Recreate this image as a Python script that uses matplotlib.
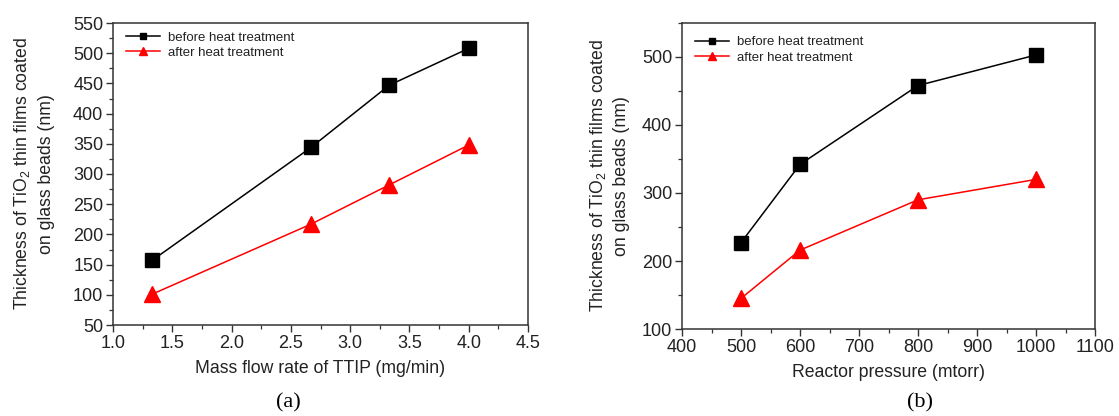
import matplotlib
matplotlib.use("Agg")
import matplotlib.pyplot as plt
from matplotlib.ticker import MultipleLocator

plt.rcParams['font.family'] = ['Liberation Sans', 'DejaVu Sans']
plt.rcParams['mathtext.default'] = 'regular'

# Panel (a)
flow_rate = [1.33, 2.67, 3.33, 4.0]
before_a = [157, 344, 447, 508]
after_a = [101, 217, 282, 348]

# Panel (b)
pressure = [500, 600, 800, 1000]
before_b = [227, 342, 458, 503]
after_b = [145, 216, 290, 320]

labels = ["before heat treatment", "after heat treatment"]
ylabel = "Thickness of TiO$_2$ thin films coated\non glass beads (nm)"

W, H = 1119, 416
fig = plt.figure(figsize=(W / 100, H / 100), dpi=100)
ax1 = fig.add_axes([113 / W, 1 - 325 / H, 415 / W, 302 / H])
ax2 = fig.add_axes([682 / W, 1 - 329 / H, 413 / W, 306 / H])

TXT = '#222222'

def style(ax):
    ax.tick_params(which='both', direction='out', top=False, right=False,
                   labelsize=13, color='#333333', labelcolor=TXT, pad=2)
    ax.tick_params(which='major', length=5, width=1.0)
    ax.tick_params(which='minor', length=3, width=0.9)
    for s in ax.spines.values():
        s.set_linewidth(1.1)
        s.set_color('#333333')

def legend(ax, anchor):
    ax.legend(loc='upper left', bbox_to_anchor=anchor, frameon=False,
              fontsize=9.5, handlelength=2.6, markerscale=0.5,
              borderaxespad=0.0, labelspacing=0.25,
              handletextpad=0.6, labelcolor=TXT)

ax1.plot(flow_rate, before_a, color='black', lw=1.1, marker='s', ms=10, label=labels[0])
ax1.plot(flow_rate, after_a, color='red', lw=1.1, marker='^', ms=11.5, label=labels[1])
ax1.set_xlim(1.0, 4.5)
ax1.set_ylim(50, 550)
ax1.xaxis.set_major_locator(MultipleLocator(0.5))
ax1.xaxis.set_minor_locator(MultipleLocator(0.25))
ax1.yaxis.set_major_locator(MultipleLocator(50))
ax1.yaxis.set_minor_locator(MultipleLocator(25))
ax1.set_xlabel("Mass flow rate of TTIP (mg/min)", fontsize=12.7, labelpad=6, color=TXT)
ax1.set_ylabel(ylabel, fontsize=12.7, color=TXT, linespacing=1.45)
ax1.yaxis.set_label_coords(-0.14, 0.5)
style(ax1)
legend(ax1, (0.018, 0.99))

ax2.plot(pressure, before_b, color='black', lw=1.1, marker='s', ms=10, label=labels[0])
ax2.plot(pressure, after_b, color='red', lw=1.1, marker='^', ms=11.5, label=labels[1])
ax2.set_xlim(400, 1100)
ax2.set_ylim(100, 550)
ax2.xaxis.set_major_locator(MultipleLocator(100))
ax2.xaxis.set_minor_locator(MultipleLocator(50))
ax2.yaxis.set_major_locator(MultipleLocator(100))
ax2.yaxis.set_minor_locator(MultipleLocator(50))
ax2.set_xlabel("Reactor pressure (mtorr)", fontsize=12.7, labelpad=6, color=TXT)
ax2.set_ylabel(ylabel, fontsize=12.7, color=TXT, linespacing=1.45)
ax2.yaxis.set_label_coords(-0.125, 0.5)
style(ax2)
legend(ax2, (0.018, 0.975))

fig.text(288 / W, 1 - 403 / H, "(a)", family='Liberation Serif', fontsize=16,
         ha='center', va='center')
fig.text(920 / W, 1 - 403 / H, "(b)", family='Liberation Serif', fontsize=16,
         ha='center', va='center')

fig.savefig("out.png", dpi=100)
